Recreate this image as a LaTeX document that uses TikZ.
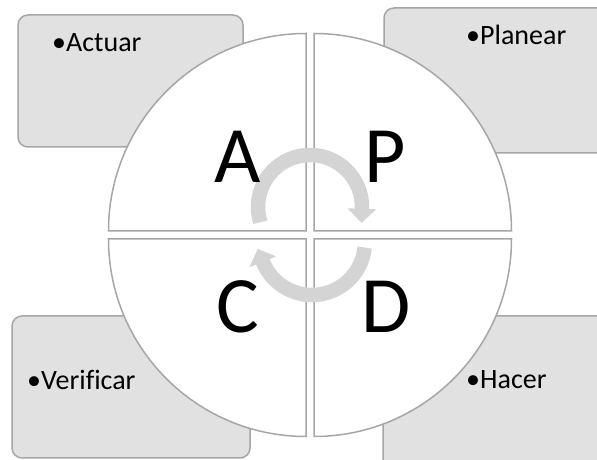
\documentclass[tikz,border=0pt]{standalone}
\usepackage{fontspec}
\setmainfont[Ligatures=NoCommon]{Carlito}
\usetikzlibrary{arrows.meta}
\definecolor{boxgrey}{RGB}{225,225,225}
\definecolor{edgegrey}{RGB}{166,166,166}
\definecolor{arrowgrey}{RGB}{212,212,212}

\begin{document}
\begin{tikzpicture}[x=1pt, y=1pt,
  itembox/.style={draw=edgegrey, line width=1.5pt, fill=boxgrey, rounded corners=10pt},
  quad/.style={draw=edgegrey, line width=1.5pt, fill=white},
  itemtext/.style={anchor=base west, inner sep=0pt, font=\fontsize{28}{32}\selectfont},
  bigletter/.style={anchor=base, inner sep=0pt, font=\fontsize{80}{90}\selectfont},
  cyclearrow/.style={draw=arrowgrey, line width=14.5pt, -{Triangle[length=14pt, width=28pt]}}]
\clip (0,0) rectangle (597,460);
% boxes behind the circle
\draw[itembox] (18,313) rectangle (243,445);
\draw[itembox] (384,307) rectangle (630,452);
\draw[itembox] (12,2) rectangle (250,144);
\draw[itembox] (383,-30) rectangle (630,144);
\node[itemtext] (actuar)    at (52,408)  {•Actuar};
\node[itemtext] (planear)   at (466,415) {•Planear};
\node[itemtext] (verificar) at (27,70)   {•Verificar};
\node[itemtext] (hacer)     at (466,71)  {•Hacer};
% four quadrants
\coordinate (qa) at (306,229);
\coordinate (qp) at (314,229);
\coordinate (qc) at (306,221);
\coordinate (qd) at (314,221);
\draw[quad] (qa) -- ++(180:197.5pt) arc[start angle=180, end angle=90, radius=197.5pt] -- cycle;
\draw[quad] (qp) -- ++(0:197.5pt) arc[start angle=0, end angle=90, radius=197.5pt] -- cycle;
\draw[quad] (qc) -- ++(180:197.5pt) arc[start angle=180, end angle=270, radius=197.5pt] -- cycle;
\draw[quad] (qd) -- ++(0:197.5pt) arc[start angle=0, end angle=-90, radius=197.5pt] -- cycle;
% cycle arrows
\coordinate (topc) at (310,253);
\coordinate (botc) at (312,218);
\draw[cyclearrow] ([shift={(197:52pt)}]topc) arc[start angle=197, end angle=-2, radius=52pt] -- ++(-92:14pt);
\draw[cyclearrow] ([shift={(-6:53pt)}]botc) arc[start angle=-6, end angle=-158, radius=53pt] -- ++(112:14pt);
% letters
\node[bigletter] (A) at (237.5,277) {A};
\node[bigletter] (P) at (385,277)   {P};
\node[bigletter] (C) at (238,127)   {C};
\node[bigletter] (D) at (386,127)   {D};
\end{tikzpicture}
\end{document}
